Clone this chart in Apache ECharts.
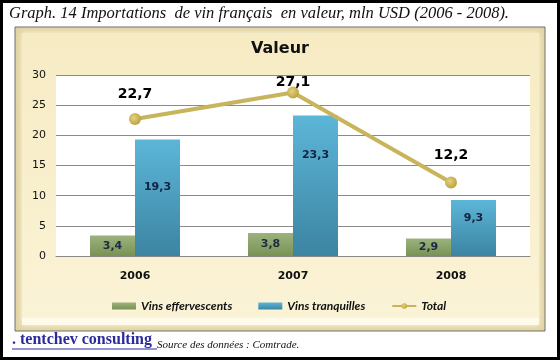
<!DOCTYPE html>
<html><head><meta charset="utf-8">
<script src="https://cdn.jsdelivr.net/npm/echarts@6/dist/echarts.min.js"></script>
<style>html,body{margin:0;padding:0;background:#fff}#c{width:560px;height:360px}</style>
</head><body><div id="c"></div>
<script>
var categories = ['2006', '2007', '2008'];
var effervescents = [3.4, 3.8, 2.9];
var tranquilles = [19.3, 23.3, 9.3];
var total = [22.7, 27.1, 12.2];
var yTicks = [0, 5, 10, 15, 20, 25, 30];

var tranqDy = [-11, -31, -10];
var totalDy = [-10, 5, -12];
function fmt(v){ return String(v).replace('.', ','); }

var chart = echarts.init(document.getElementById('c'));
var option = {
  animation: false,
  backgroundColor: '#fff',
  graphic: [
    {type:'rect', z:-10, shape:{x:15,y:27,width:530,height:304}, style:{fill:'#e2d3a2', stroke:'#6e6e6e', lineWidth:1}},
    {type:'rect', z:-9, shape:{x:22,y:33,width:517,height:292}, style:{fill:new echarts.graphic.LinearGradient(0,0,0,1,[{offset:0,color:'#f6ebc3'},{offset:1,color:'#fbf3d6'}]), shadowBlur:6, shadowColor:'rgba(255,255,240,0.9)'}},
    {type:'rect', z:-8, shape:{x:22,y:318,width:517,height:7}, style:{fill:'#fffbea'}},
    {type:'rect', z:100, shape:{x:1.5,y:1.5,width:557,height:357}, style:{fill:null, stroke:'#000', lineWidth:3}},
    {type:'text', left:9, top:5, style:{text:'Graph. 14 Importations  de vin français  en valeur, mln USD (2006 - 2008).', font:'italic 16.5px "Liberation Serif"', fill:'#111'}},
    {type:'text', left:12, top:332, style:{text:'. tentchev consulting', font:'bold 16px "Liberation Serif"', fill:'#2b2b9e'}},
    {type:'line', shape:{x1:12,y1:349,x2:157,y2:349}, style:{stroke:'#2b2b9e', lineWidth:1.2}},
    {type:'text', left:157, top:340, style:{text:'Source des données : Comtrade.', font:'italic 11px "Liberation Serif"', fill:'#111'}}
  ],
  title: {text:'Valeur', left:'center', top:36, textStyle:{fontFamily:'DejaVu Sans', fontWeight:'bold', fontSize:16, color:'#111'}},
  grid: {left:56, right:30, top:75, bottom:104, show:true, backgroundColor:'#fff', borderWidth:0},
  legend: {
    top:295, left:107, itemGap:26, itemWidth:24, itemHeight:7,
    textStyle:{fontFamily:'Lato', fontStyle:'italic', fontWeight:'bold', fontSize:12, color:'#111'},
    data:[{name:'Vins effervescents', icon:'rect'},{name:'Vins tranquilles', icon:'rect'},{name:'Total'}]
  },
  xAxis: {
    type:'category', data:categories,
    axisTick:{show:false},
    axisLine:{lineStyle:{color:'#888', width:1}},
    axisLabel:{margin:15, fontFamily:'DejaVu Sans', fontWeight:'bold', fontSize:11, color:'#111'}
  },
  yAxis: {
    type:'value', min:yTicks[0], max:yTicks[yTicks.length-1], interval:5,
    axisLine:{show:false}, axisTick:{show:false},
    axisLabel:{margin:10, fontFamily:'DejaVu Sans', fontSize:11, color:'#111'},
    splitLine:{lineStyle:{color:'#8a8a8a', width:1}}
  },
  series: [
    {
      name:'Vins effervescents', type:'bar', barWidth:45, barGap:'0%',
      data: effervescents,
      itemStyle:{color:new echarts.graphic.LinearGradient(0,0,0,1,[{offset:0,color:'#9db27e'},{offset:1,color:'#789254'}])},
      label:{show:true, position:'inside', formatter:function(p){return fmt(p.value);}, fontFamily:'DejaVu Sans', fontWeight:'bold', fontSize:11, color:'#1c2a44'}
    },
    {
      name:'Vins tranquilles', type:'bar', barWidth:45,
      data: tranquilles.map(function(v,i){return {value:v, label:{offset:[0,tranqDy[i]]}};}),
      itemStyle:{color:new echarts.graphic.LinearGradient(0,0,0,1,[{offset:0,color:'#5cb6d8'},{offset:1,color:'#3c84a2'}])},
      label:{show:true, position:'inside', formatter:function(p){return fmt(p.value);}, fontFamily:'DejaVu Sans', fontWeight:'bold', fontSize:11, color:'#13233f'}
    },
    {
      name:'Total', type:'line', symbol:'circle', symbolSize:12, z:5,
      data: total.map(function(v,i){return {value:v, label:{offset:[0,totalDy[i]]}};}),
      lineStyle:{color:'#c8b45a', width:4},
      itemStyle:{color:new echarts.graphic.RadialGradient(0.4,0.4,0.7,[{offset:0,color:'#e6d27a'},{offset:1,color:'#b59c3c'}])},
      label:{show:true, position:'top', distance:2, formatter:function(p){return fmt(p.value);}, fontFamily:'DejaVu Sans', fontWeight:'bold', fontSize:14, color:'#000'}
    }
  ]
};
chart.setOption(option);
</script></body></html>
